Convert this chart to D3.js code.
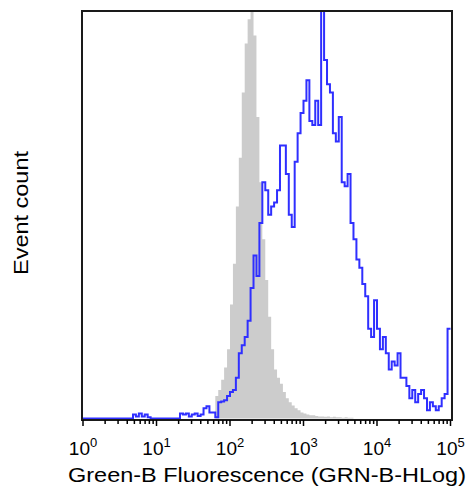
<!DOCTYPE html>
<html>
<meta charset="utf-8">
<head>
  <script src="https://d3js.org/d3.v7.min.js"></script>
  <style>
    body { margin: 0; background: #fff; }
    text { font-family: Arial, "Liberation Sans", sans-serif; fill: #000; }
  </style>
</head>
<body>
<div id="chart"></div>
<script>

  // channels are 0.04 decade wide, starting at 10^0
  var binStep = 0.04;

  var decades = [0, 1, 2, 3, 4, 5];

  // unstained control (gray), first bin index 45
  var grayStart = 45;
  var grayCounts = [5.5, 7, 9.5, 12.5, 17, 28, 38, 52, 64, 80,
                    92, 98, 100, 94, 74, 58, 44, 34, 25, 17,
                    12, 10, 8.5, 6.5, 5, 4, 3.2, 2.5, 2, 1.5,
                    1.2, 1, 0.8, 0.8, 0.6, 0.5, 0.5, 0.4, 0.5, 0.3,
                    0.4, 0.3, 0.3, 0.2, 0.3, 0.2, 0.2, 0];

  // stained sample (blue), bins 0..124
  var blueCounts = [0, 0, 0, 0, 0, 0, 0, 0, 0, 0,
                    0, 0, 0, 0, 0, 0, 0, 1, 0.5, 1.2,
                    0.5, 1, 0.3, 0, 0, 0, 0, 0, 0, 0,
                    0, 0, 0, 1.2, 1, 1.2, 0.5, 1, 1.2, 0.6,
                    1, 2.5, 3, 1.5, 1.5, 0.3, 4, 4.2, 4.5, 5.5,
                    6.5, 7, 10, 16, 18, 20, 24, 32, 40, 35,
                    48, 58, 56, 50, 52, 53, 56, 67, 67, 60,
                    50, 47, 63, 70, 75, 78, 83, 73, 72, 78,
                    72, 100, 88, 82, 80, 70, 68, 74, 58, 57,
                    60, 48, 44, 39, 37, 33, 30, 22, 20, 29,
                    22, 17, 20, 16, 12, 14, 13, 16, 10, 10,
                    8, 5, 7, 4, 6, 7, 5, 2, 4, 3,
                    2, 3, 5, 6, 22];

  var plotL = 82, plotR = 452, plotT = 11, plotB = 420;

  var svg = d3.select("#chart").append("svg")
      .attr("width", 473)
      .attr("height", 490);

  var x = d3.scaleLog().domain([1, 1e5]).range([83, 450.5]);
  var y = d3.scaleLinear().domain([0, 100]).range([418.5, plotT]);

  function steps(counts, start) {
    var pts = counts.map(function(c, i) {
      return { v: Math.pow(10, (start + i) * binStep), c: c };
    });
    pts.push({ v: Math.pow(10, (start + counts.length) * binStep), c: counts[counts.length - 1] });
    return pts;
  }

  var grayPts = steps(grayCounts, grayStart);
  var bluePts = steps(blueCounts, 0);

  var area = d3.area()
      .curve(d3.curveStepAfter)
      .x(function(d) { return x(d.v); })
      .y0(y(0))
      .y1(function(d) { return y(d.c); });

  var line = d3.line()
      .curve(d3.curveStepAfter)
      .x(function(d) { return x(d.v); })
      .y(function(d) { return y(d.c); });

  svg.append("path")
      .attr("d", area(grayPts))
      .attr("fill", "#cccccc");

  svg.append("path")
      .attr("d", line(bluePts))
      .attr("fill", "none")
      .attr("stroke", "#2f2fff")
      .attr("stroke-width", 2);

  // frame
  svg.append("rect")
      .attr("x", plotL)
      .attr("y", plotT)
      .attr("width", plotR - plotL)
      .attr("height", plotB - plotT)
      .attr("fill", "none")
      .attr("stroke", "#1a1a1a")
      .attr("stroke-width", 2);

  // ticks: major at each decade, minor 2..9
  var ticks = [];
  decades.forEach(function(d) {
    ticks.push({ v: Math.pow(10, d), major: true });
    if (d < 5) {
      for (var m = 2; m < 10; m++) ticks.push({ v: m * Math.pow(10, d), major: false });
    }
  });

  svg.append("g").selectAll("line")
      .data(ticks)
      .enter()
      .append("line")
      .attr("x1", function(d) { return x(d.v); })
      .attr("x2", function(d) { return x(d.v); })
      .attr("y1", plotB)
      .attr("y2", function(d) { return d.major ? plotB + 6 : plotB + 4; })
      .attr("stroke", "#000")
      .attr("stroke-width", 1.5);

  var lab = svg.append("g").selectAll("text")
      .data(decades)
      .enter()
      .append("text")
      .attr("x", function(d) { return x(Math.pow(10, d)); })
      .attr("y", 455)
      .attr("text-anchor", "middle")
      .style("font-size", "19px");
  lab.append("tspan").text("10");
  lab.append("tspan")
      .attr("dy", -8)
      .style("font-size", "13px")
      .text(function(d) { return d; });

  svg.append("text")
      .attr("x", 267)
      .attr("y", 482)
      .attr("text-anchor", "middle")
      .attr("textLength", 398)
      .attr("lengthAdjust", "spacingAndGlyphs")
      .style("font-size", "21px")
      .text("Green-B Fluorescence (GRN-B-HLog)");

  svg.append("text")
      .attr("transform", "translate(28,213) rotate(-90)")
      .attr("text-anchor", "middle")
      .attr("textLength", 124)
      .attr("lengthAdjust", "spacingAndGlyphs")
      .style("font-size", "21px")
      .text("Event count");

</script>
</body>
</html>
